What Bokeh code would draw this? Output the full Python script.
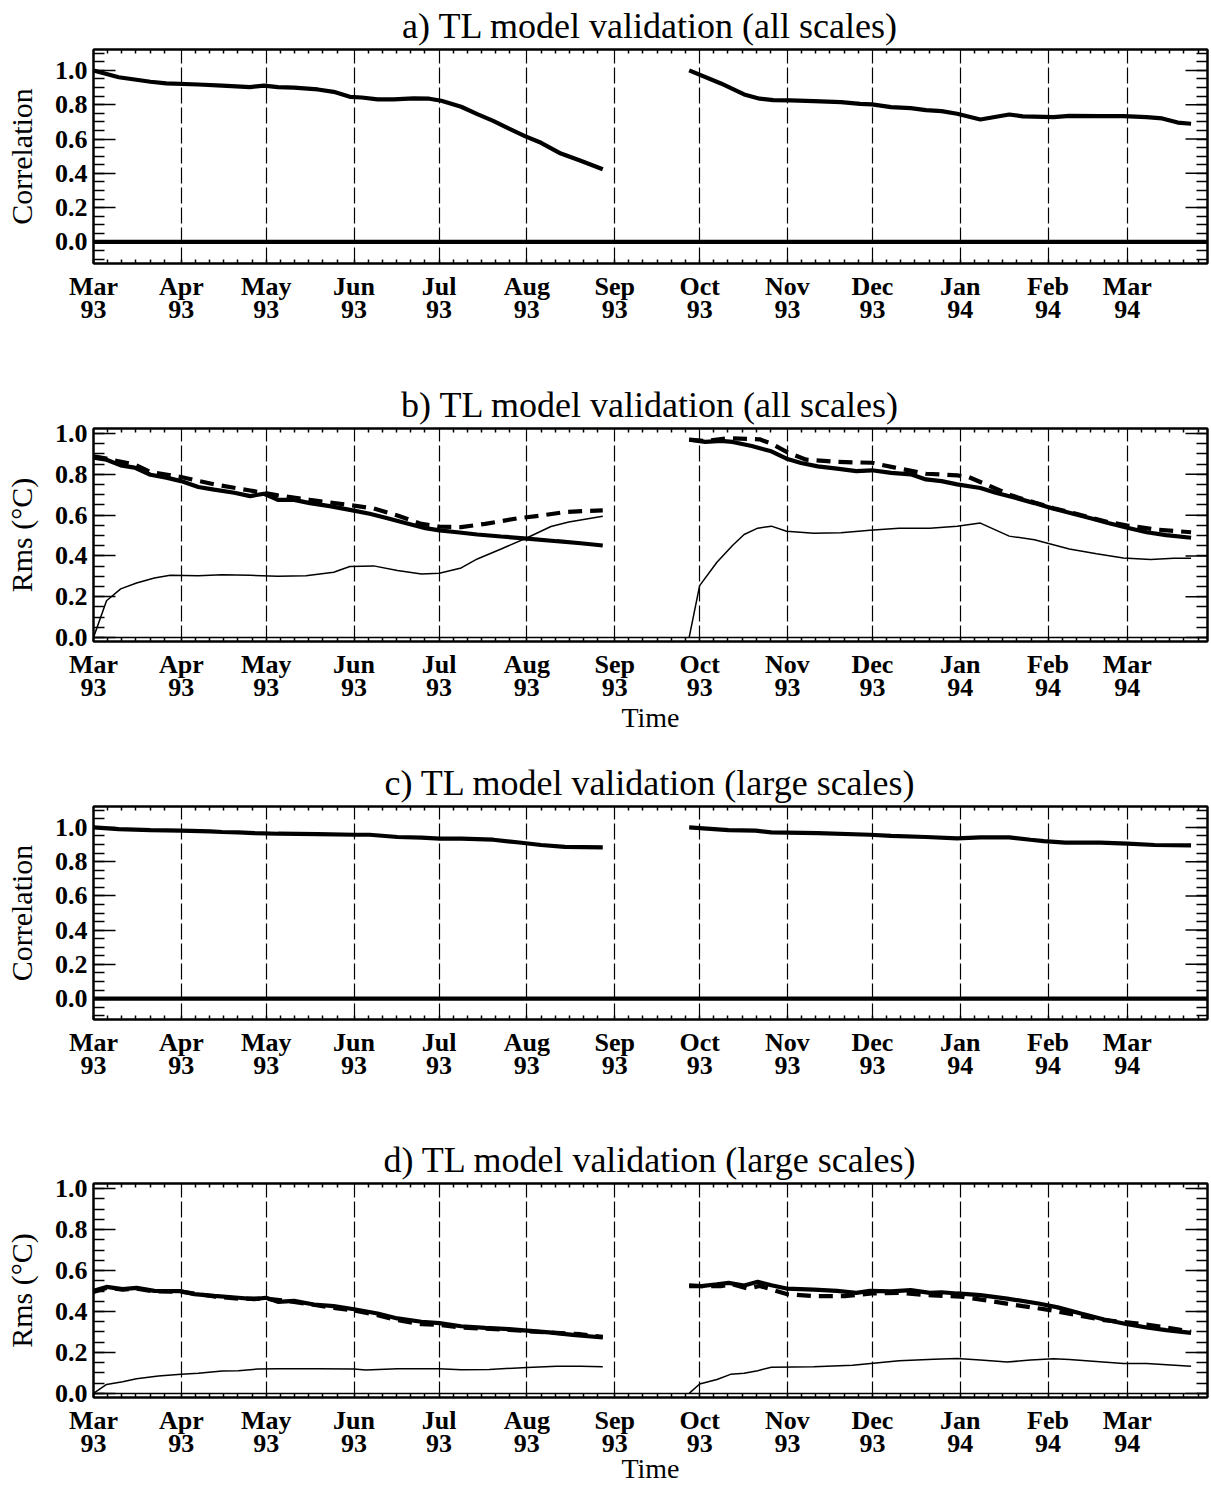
import math

from bokeh.plotting import figure
from bokeh.layouts import column
from bokeh.models import Range1d, LinearAxis, FixedTicker, PrintfTickFormatter, Span
from bokeh.embed import file_html
from bokeh.resources import INLINE

# Time axis: days since 1 March 1993
month_days = [0, 31, 61, 92, 122, 153, 184, 214, 245, 275, 306, 337, 365]
month_names = ["Mar", "Apr", "May", "Jun", "Jul", "Aug", "Sep", "Oct", "Nov", "Dec", "Jan", "Feb", "Mar"]
month_years = ["93", "93", "93", "93", "93", "93", "93", "93", "93", "93", "94", "94", "94"]
X_END = 393.3
y_major = [0.0, 0.2, 0.4, 0.6, 0.8, 1.0]

# a) correlation, all scales
a_left_day = [0, 8.9, 20.1, 25.7, 37.0, 45.4, 55.3, 60.2, 65.1, 70.8, 79.2, 84.8, 90.5, 94.7, 100.3, 105.9,
              113.0, 118.6, 122.8, 129.8, 135.5, 141.1, 146.7, 152.3, 158.0, 165.0, 172.0, 179.8]
a_left_corr = [1.0, 0.96, 0.934, 0.924, 0.918, 0.911, 0.903, 0.911, 0.903, 0.90, 0.889, 0.875, 0.846, 0.842,
               0.831, 0.831, 0.837, 0.835, 0.823, 0.788, 0.745, 0.706, 0.661, 0.617, 0.578, 0.515, 0.473, 0.424]
a_right_day = [210.3, 221.5, 229.7, 235.2, 240.0, 246.1, 254.3, 263.9, 270.7, 274.8, 281.6, 288.5, 293.9,
               299.4, 304.9, 313.1, 323.3, 328.1, 339.0, 344.5, 355.4, 363.6, 371.8, 377.3, 382.8, 387.5]
a_right_corr = [1.0, 0.924, 0.86, 0.835, 0.827, 0.825, 0.821, 0.815, 0.805, 0.802, 0.786, 0.780, 0.768,
                0.763, 0.747, 0.714, 0.743, 0.732, 0.728, 0.735, 0.733, 0.733, 0.728, 0.72, 0.696, 0.689]

# b) rms, all scales: TL (thick solid), nonlinear (thick dashed), difference (thin)
b_tl_left_day = [0, 4.6, 9.6, 14.5, 20.1, 25.7, 30.9, 37.0, 42.6, 49.7, 55.3, 60.2, 65.1, 70.8, 76.4, 83.4,
                 90.5, 97.5, 103.1, 110.1, 117.2, 122.1, 128.4, 135.5, 143.9, 153.1, 163.6, 172.0, 179.8]
b_tl_left = [0.882, 0.872, 0.844, 0.833, 0.798, 0.784, 0.767, 0.738, 0.725, 0.710, 0.693, 0.705, 0.675, 0.675,
             0.659, 0.644, 0.626, 0.607, 0.587, 0.561, 0.536, 0.525, 0.516, 0.505, 0.495, 0.485, 0.472, 0.462, 0.451]
b_nl_left_day = [0, 4.6, 14.5, 20.1, 30.9, 42.6, 55.3, 65.1, 76.4, 89.0, 98.9, 107.3, 115.8, 122.1, 129.8,
                 138.3, 149.5, 158.0, 166.4, 173.4, 179.8]
b_nl_left = [0.889, 0.877, 0.848, 0.811, 0.787, 0.751, 0.721, 0.697, 0.675, 0.652, 0.633, 0.598, 0.557, 0.544,
             0.541, 0.557, 0.584, 0.598, 0.615, 0.620, 0.623]
b_diff_left_day = [0, 4.6, 9.6, 15.2, 21.5, 27.1, 37.0, 45.4, 55.3, 65.1, 75.0, 84.8, 90.5, 98.9, 107.3, 115.8,
                   122.1, 129.8, 135.5, 143.9, 153.1, 161.5, 167.8, 179.8]
b_diff_left = [0.0, 0.180, 0.238, 0.267, 0.292, 0.305, 0.302, 0.307, 0.305, 0.300, 0.303, 0.320, 0.348, 0.351,
               0.328, 0.311, 0.315, 0.341, 0.385, 0.434, 0.489, 0.544, 0.566, 0.595]
b_tl_right_day = [210.3, 216.0, 221.5, 225.6, 232.4, 239.3, 244.7, 249.8, 255.7, 262.5, 269.3, 274.8, 281.6,
                  288.5, 293.9, 299.4, 304.9, 313.1, 318.5, 325.4, 332.2, 339.0, 345.9, 352.7, 358.2, 365.0,
                  371.8, 378.7, 387.5]
b_tl_right = [0.970, 0.959, 0.964, 0.959, 0.939, 0.913, 0.877, 0.856, 0.839, 0.828, 0.816, 0.820, 0.807, 0.800,
              0.775, 0.767, 0.751, 0.733, 0.710, 0.685, 0.659, 0.631, 0.607, 0.582, 0.561, 0.538, 0.516, 0.502, 0.489]
b_nl_right_day = [210.3, 216.0, 224.2, 235.2, 239.3, 244.7, 251.6, 262.5, 274.8, 283.0, 293.9, 304.9, 309.0,
                  317.2, 324.0, 332.2, 339.0, 345.9, 352.7, 358.2, 365.0, 374.6, 387.5]
b_nl_right = [0.970, 0.964, 0.977, 0.972, 0.951, 0.910, 0.872, 0.861, 0.857, 0.833, 0.803, 0.795, 0.787, 0.738,
              0.697, 0.662, 0.634, 0.610, 0.585, 0.566, 0.549, 0.530, 0.516]
b_diff_right_day = [210.3, 214.0, 220.1, 225.6, 229.7, 234.5, 239.3, 244.7, 254.3, 263.9, 274.1, 284.4, 295.3,
                    304.9, 313.1, 323.3, 332.2, 344.5, 354.1, 363.6, 373.2, 381.4, 387.5]
b_diff_right = [0.0, 0.254, 0.369, 0.451, 0.505, 0.536, 0.546, 0.521, 0.511, 0.513, 0.526, 0.536, 0.536, 0.546,
                0.561, 0.497, 0.479, 0.434, 0.410, 0.390, 0.382, 0.389, 0.389]

# c) correlation, large scales
c_left_day = [0, 8.9, 20.1, 30.9, 41.2, 45.4, 51.1, 56.7, 65.1, 79.2, 92.0, 97.5, 107.3, 115.8, 122.1, 129.8,
              141.1, 149.5, 158.0, 166.4, 179.8]
c_left_corr = [1.0, 0.99, 0.984, 0.981, 0.977, 0.973, 0.971, 0.967, 0.963, 0.961, 0.957, 0.957, 0.944, 0.94,
               0.934, 0.934, 0.928, 0.913, 0.897, 0.886, 0.883]
c_right_day = [210.3, 214.0, 224.2, 233.8, 239.3, 255.7, 274.1, 281.6, 293.9, 304.9, 313.1, 323.3, 330.8, 335.5,
               343.1, 355.4, 365.0, 374.6, 387.5]
c_right_corr = [1.0, 0.996, 0.984, 0.981, 0.971, 0.967, 0.957, 0.951, 0.944, 0.936, 0.942, 0.942, 0.928, 0.92,
                0.911, 0.911, 0.905, 0.897, 0.895]

# d) rms, large scales
d_tl_left_day = [0, 4.6, 10.3, 15.2, 21.5, 30.9, 35.6, 42.6, 51.1, 56.7, 60.9, 65.1, 70.8, 77.8, 84.8, 92.0,
                 100.3, 107.3, 115.8, 122.1, 129.8, 138.3, 146.7, 153.1, 160.8, 169.2, 179.8]
d_tl_left = [0.501, 0.520, 0.509, 0.515, 0.501, 0.499, 0.485, 0.476, 0.467, 0.460, 0.467, 0.447, 0.452, 0.434,
             0.426, 0.411, 0.390, 0.366, 0.350, 0.343, 0.328, 0.320, 0.314, 0.307, 0.298, 0.286, 0.273]
d_nl_left_day = [0, 4.6, 10.3, 15.2, 21.5, 30.9, 42.6, 51.1, 60.9, 70.8, 84.8, 92.0, 100.3, 107.3, 115.8, 122.1,
                 129.8, 146.7, 160.8, 172.0, 179.8]
d_nl_left = [0.495, 0.515, 0.507, 0.512, 0.498, 0.497, 0.473, 0.463, 0.463, 0.447, 0.418, 0.405, 0.382, 0.358,
             0.338, 0.335, 0.322, 0.310, 0.297, 0.289, 0.276]
d_diff_left_day = [0, 4.6, 10.3, 15.2, 22.9, 30.9, 37.0, 45.4, 51.1, 58.1, 65.1, 79.2, 92.0, 96.1, 107.3, 122.1,
                   129.8, 139.7, 153.1, 163.6, 172.0, 179.8]
d_diff_left = [0.0, 0.044, 0.057, 0.072, 0.085, 0.094, 0.098, 0.109, 0.111, 0.119, 0.120, 0.120, 0.119, 0.114,
               0.120, 0.120, 0.115, 0.117, 0.127, 0.133, 0.133, 0.130]
d_tl_right_day = [210.3, 214.7, 220.1, 224.2, 229.7, 234.5, 239.3, 244.7, 254.3, 262.5, 269.3, 274.1, 281.6,
                  288.5, 295.3, 299.4, 304.9, 313.1, 322.6, 333.6, 340.4, 348.6, 356.8, 365.0, 371.8, 378.7, 387.5]
d_tl_right = [0.528, 0.524, 0.533, 0.540, 0.527, 0.545, 0.528, 0.512, 0.507, 0.501, 0.491, 0.501, 0.498, 0.504,
              0.491, 0.494, 0.488, 0.480, 0.463, 0.439, 0.420, 0.390, 0.361, 0.338, 0.322, 0.309, 0.296]
d_nl_right_day = [210.3, 221.5, 225.6, 231.1, 235.2, 244.7, 254.3, 265.2, 274.8, 284.4, 293.9, 306.2, 317.2,
                  328.1, 337.7, 347.2, 356.8, 369.1, 378.7, 387.5]
d_nl_right = [0.524, 0.524, 0.533, 0.512, 0.525, 0.485, 0.475, 0.475, 0.488, 0.491, 0.480, 0.472, 0.450, 0.426,
              0.407, 0.382, 0.358, 0.341, 0.322, 0.301]
d_diff_right_day = [210.3, 214.0, 220.1, 224.9, 229.7, 234.5, 239.3, 254.3, 268.0, 284.4, 296.7, 304.9, 313.1,
                    322.6, 330.8, 339.0, 344.5, 363.6, 371.8, 387.5]
d_diff_right = [0.0, 0.046, 0.068, 0.093, 0.098, 0.111, 0.128, 0.130, 0.137, 0.159, 0.167, 0.171, 0.163, 0.153,
                0.163, 0.169, 0.166, 0.146, 0.146, 0.133]

SERIF = "Liberation Serif"
THICK = 4.2
THIN = 1.5


def minor_day_ticks():
    ticks = []
    ends = month_days[1:] + [X_END]
    for start, end in zip(month_days, ends):
        d = start + 5
        while d < end - 2:
            ticks.append(d)
            d += 5
    return ticks


def make_panel(title, ylabel, y_start, y_end, height, top, bottom, time_standoff=None):
    p = figure(width=1211, height=height, x_range=Range1d(0, X_END), y_range=Range1d(y_start, y_end),
               output_backend="svg", toolbar_location=None, x_axis_location=None, y_axis_location=None,
               min_border_left=93, min_border_right=4, min_border_top=top, min_border_bottom=bottom)
    p.outline_line_color = "black"
    p.outline_line_width = 2
    p.background_fill_color = "white"
    p.border_fill_color = "white"

    p.title.text = title
    p.title.align = "center"
    p.title.text_font = SERIF
    p.title.text_font_size = "36px"
    p.title.text_font_style = "normal"
    p.title.text_color = "black"
    p.title.standoff = 7

    y_minor = [round(-0.1 + 0.05 * i, 2) for i in range(25)]
    y_minor = [v for v in y_minor if y_start <= v <= y_end]

    bottom_ax = LinearAxis(ticker=FixedTicker(ticks=month_days, minor_ticks=minor_day_ticks()))
    bottom_ax.major_label_overrides = {d: f"{m}\n{y}" for d, m, y in zip(month_days, month_names, month_years)}
    bottom_ax.major_label_text_font = SERIF
    bottom_ax.major_label_text_font_style = "bold"
    bottom_ax.major_label_text_font_size = "26px"
    bottom_ax.major_label_text_line_height = 0.8
    bottom_ax.major_label_standoff = 8
    if time_standoff is not None:
        bottom_ax.axis_label = "Time"
        bottom_ax.axis_label_text_font = SERIF
        bottom_ax.axis_label_text_font_size = "28px"
        bottom_ax.axis_label_text_font_style = "normal"
        bottom_ax.axis_label_text_color = "black"
        bottom_ax.axis_label_standoff = time_standoff

    # top and right edges only carry tick marks, no labels
    top_ax = LinearAxis(ticker=FixedTicker(ticks=[], minor_ticks=minor_day_ticks()))
    right_ax = LinearAxis(ticker=FixedTicker(ticks=[], minor_ticks=y_minor))

    left_ax = LinearAxis(ticker=FixedTicker(ticks=y_major, minor_ticks=y_minor),
                         formatter=PrintfTickFormatter(format="%.1f"))
    left_ax.axis_label = ylabel
    left_ax.axis_label_text_font = SERIF
    left_ax.axis_label_text_font_size = "30px"
    left_ax.axis_label_text_font_style = "normal"
    left_ax.axis_label_text_color = "black"
    left_ax.axis_label_standoff = 14
    left_ax.major_label_text_font = SERIF
    left_ax.major_label_text_font_style = "bold"
    left_ax.major_label_text_font_size = "26px"
    left_ax.major_label_standoff = 6

    for ax in (bottom_ax, top_ax):
        ax.major_tick_in = 4
        ax.major_tick_out = 0
        ax.minor_tick_in = 4
        ax.minor_tick_out = 0
    for ax in (left_ax, right_ax):
        ax.major_tick_in = 22
        ax.major_tick_out = 0
        ax.minor_tick_in = 11
        ax.minor_tick_out = 0
    for ax in (bottom_ax, top_ax, left_ax, right_ax):
        ax.axis_line_width = 2
        ax.axis_line_color = "black"
        ax.major_tick_line_width = 1.5
        ax.minor_tick_line_width = 1.5
        ax.major_tick_line_color = "black"
        ax.minor_tick_line_color = "black"
        ax.major_label_text_color = "black"

    p.add_layout(bottom_ax, "below")
    p.add_layout(top_ax, "above")
    p.add_layout(left_ax, "left")
    p.add_layout(right_ax, "right")

    # long major ticks on the right edge, pointing into the frame
    p.ray(x=[X_END] * len(y_major), y=y_major, length=22, length_units="screen", angle=math.pi,
          line_color="black", line_width=1.5)

    p.xgrid.ticker = FixedTicker(ticks=month_days)
    p.xgrid.grid_line_color = "black"
    p.xgrid.grid_line_width = 1.2
    p.xgrid.grid_line_dash = "16 4"
    p.ygrid.visible = False
    return p


pa = make_panel("a) TL model validation (all scales)", "Correlation", -0.126, 1.122, 376, 49, 113)
pa.add_layout(Span(location=0, dimension="width", line_color="black", line_width=THICK))
pa.line(a_left_day, a_left_corr, line_color="black", line_width=THICK)
pa.line(a_right_day, a_right_corr, line_color="black", line_width=THICK)

pb = make_panel("b) TL model validation (all scales)", "Rms (\u00b0C)", -0.02, 1.025, 366, 52, 101, -3)
pb.add_layout(Span(location=0, dimension="width", line_color="black", line_width=THIN))
for xs, ys in ((b_diff_left_day, b_diff_left), (b_diff_right_day, b_diff_right)):
    pb.line(xs, ys, line_color="black", line_width=THIN)
for xs, ys in ((b_nl_left_day, b_nl_left), (b_nl_right_day, b_nl_right)):
    pb.line(xs, ys, line_color="black", line_width=THICK, line_dash="14 8")
for xs, ys in ((b_tl_left_day, b_tl_left), (b_tl_right_day, b_tl_right)):
    pb.line(xs, ys, line_color="black", line_width=THICK)

pc = make_panel("c) TL model validation (large scales)", "Correlation", -0.122, 1.122, 390, 64, 113)
pc.add_layout(Span(location=0, dimension="width", line_color="black", line_width=THICK))
pc.line(c_left_day, c_left_corr, line_color="black", line_width=THICK)
pc.line(c_right_day, c_right_corr, line_color="black", line_width=THICK)

pd_ = make_panel("d) TL model validation (large scales)", "Rms (\u00b0C)", -0.02, 1.025, 354, 51, 89, -8)
pd_.add_layout(Span(location=0, dimension="width", line_color="black", line_width=THIN))
for xs, ys in ((d_diff_left_day, d_diff_left), (d_diff_right_day, d_diff_right)):
    pd_.line(xs, ys, line_color="black", line_width=THIN)
for xs, ys in ((d_nl_left_day, d_nl_left), (d_nl_right_day, d_nl_right)):
    pd_.line(xs, ys, line_color="black", line_width=THICK, line_dash="14 8")
for xs, ys in ((d_tl_left_day, d_tl_left), (d_tl_right_day, d_tl_right)):
    pd_.line(xs, ys, line_color="black", line_width=THICK)

layout = column(pa, pb, pc, pd_, spacing=0)
open("out.html", "w").write(file_html(layout, INLINE))
